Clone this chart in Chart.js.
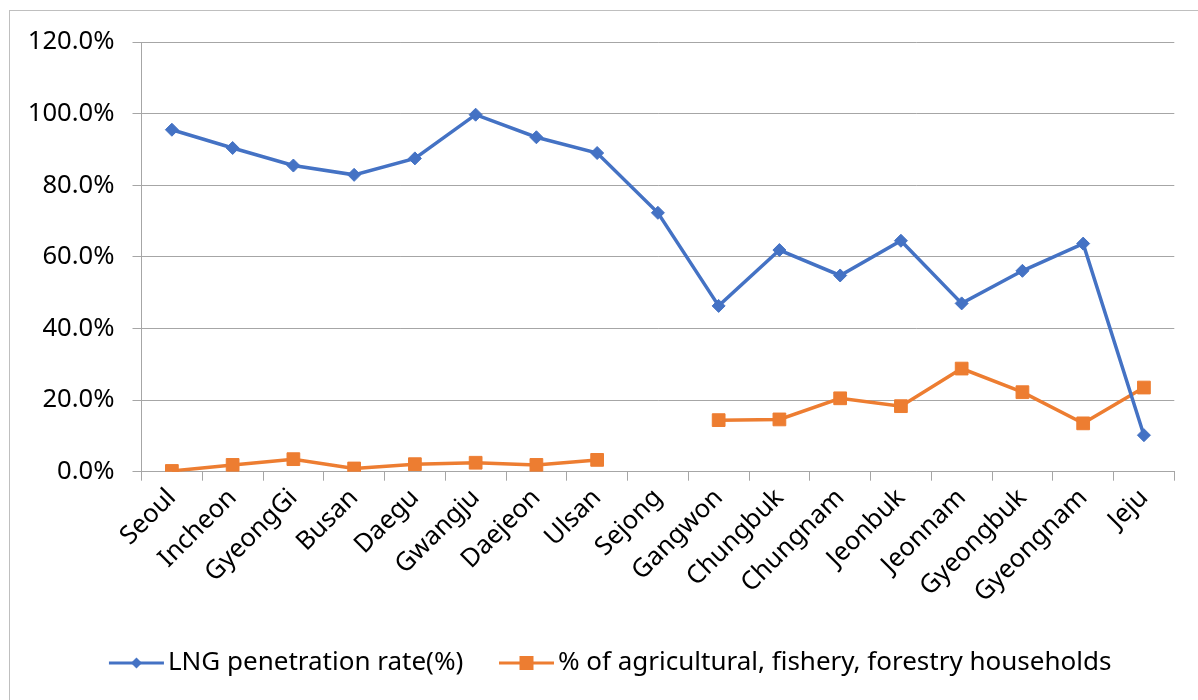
<!DOCTYPE html>
<html><head><meta charset="utf-8">
<script src="https://cdn.jsdelivr.net/npm/chart.js@4"></script>
<style>html,body{margin:0;padding:0;background:#fff}#wrap{width:1198px;height:700px;position:relative}</style>
</head><body><div id="wrap"><canvas id="c" width="1198" height="700"></canvas></div>
<script>
const categories = ['Seoul','Incheon','GyeongGi','Busan','Daegu','Gwangju','Daejeon','Ulsan','Sejong','Gangwon','Chungbuk','Chungnam','Jeonbuk','Jeonnam','Gyeongbuk','Gyeongnam','Jeju'];
const lngRate = [95.5, 90.4, 85.5, 82.9, 87.5, 99.7, 93.4, 89.0, 72.3, 46.3, 61.9, 54.8, 64.5, 47.0, 56.1, 63.7, 10.2];
const agriShare = [0.2, 1.9, 3.5, 0.9, 2.1, 2.5, 1.9, 3.3, null, 14.4, 14.6, 20.5, 18.3, 28.8, 22.2, 13.5, 23.5];
const seriesNames = ['LNG penetration rate(%)', '% of agricultural, fishery, forestry households'];
const yMin = 0, yMax = 120, yStep = 20;

const BLUE = '#4472C4', ORANGE = '#ED7D31', GRID = '#a6a6a6';
const FONT = '"Noto Sans", "Open Sans", sans-serif';

function legendIcon(color, shape) {
  const c = document.createElement('canvas');
  c.width = 120; c.height = 20;
  const g = c.getContext('2d');
  g.strokeStyle = color; g.lineWidth = 3;
  g.beginPath(); g.moveTo(39, 10); g.lineTo(94, 10); g.stroke();
  g.fillStyle = color;
  const cx = 66.5, cy = 10;
  g.beginPath();
  if (shape === 'diamond') {
    g.moveTo(cx - 5.5, cy); g.lineTo(cx, cy - 5.5); g.lineTo(cx + 5.5, cy); g.lineTo(cx, cy + 5.5);
  } else {
    g.rect(cx - 7, cy - 7, 14, 14);
  }
  g.closePath(); g.fill();
  return c;
}
const icons = [legendIcon(BLUE, 'diamond'), legendIcon(ORANGE, 'square')];

const framePlugin = {
  id: 'frame',
  afterLayout(chart) {
    if (chart.legend) { chart.legend.left = 42; }
  },
  beforeDraw(chart) {
    const ctx = chart.ctx;
    ctx.save();
    ctx.fillStyle = '#fff';
    ctx.fillRect(0, 0, chart.width, chart.height);
    ctx.strokeStyle = '#bfbfbf';
    ctx.lineWidth = 1;
    ctx.strokeRect(9.5, 10.5, chart.width + 20, chart.height + 20);
    ctx.restore();
  }
};

new Chart(document.getElementById('c'), {
  type: 'line',
  data: {
    labels: categories,
    datasets: [
      { label: seriesNames[0], data: lngRate, borderColor: BLUE, backgroundColor: BLUE,
        borderWidth: 3.5, pointStyle: 'rectRot', pointRadius: 6.5, pointBorderWidth: 1,
        pointBackgroundColor: BLUE, pointBorderColor: BLUE, tension: 0 },
      { label: seriesNames[1], data: agriShare, borderColor: ORANGE, backgroundColor: ORANGE,
        borderWidth: 3.5, pointStyle: 'rect', pointRadius: 9, pointBorderWidth: 1,
        pointBackgroundColor: ORANGE, pointBorderColor: ORANGE, tension: 0, spanGaps: false }
    ]
  },
  options: {
    responsive: false,
    animation: false,
    devicePixelRatio: 1,
    layout: { padding: { left: 0, top: 42, right: 23.7, bottom: 14 } },
    plugins: {
      tooltip: { enabled: false },
      legend: {
        position: 'bottom',
        labels: {
          usePointStyle: true,
          pointStyleWidth: 50,
          padding: 31.7,
          color: '#000',
          font: { family: FONT, size: 26 },
          generateLabels(chart) {
            return chart.data.datasets.map((d, i) => ({
              text: d.label, pointStyle: icons[i], fillStyle: 'rgba(0,0,0,0)',
              strokeStyle: 'rgba(0,0,0,0)', lineWidth: 0, hidden: false, datasetIndex: i, fontColor: '#000'
            }));
          }
        }
      }
    },
    scales: {
      x: {
        offset: true,
        afterFit(s) { s.height = 146.6; },
        grid: { display: true, offset: true, drawOnChartArea: false, drawTicks: true, tickLength: 9, color: GRID, lineWidth: 1 },
        border: { display: true, color: GRID, width: 1 },
        ticks: { color: '#000', font: { family: FONT, size: 25.6 }, minRotation: 45, maxRotation: 45, autoSkip: false, padding: 2 }
      },
      y: {
        min: yMin, max: yMax,
        afterFit(s) { s.width = 141.5; },
        grid: { color: GRID, lineWidth: 1, drawTicks: true, tickLength: 9 },
        border: { display: true, color: GRID, width: 1 },
        ticks: { stepSize: yStep, color: '#000', font: { family: FONT, size: 25.6 }, padding: 18,
          callback: v => v.toFixed(1) + '%' }
      }
    }
  },
  plugins: [framePlugin]
});
</script>
</body></html>
